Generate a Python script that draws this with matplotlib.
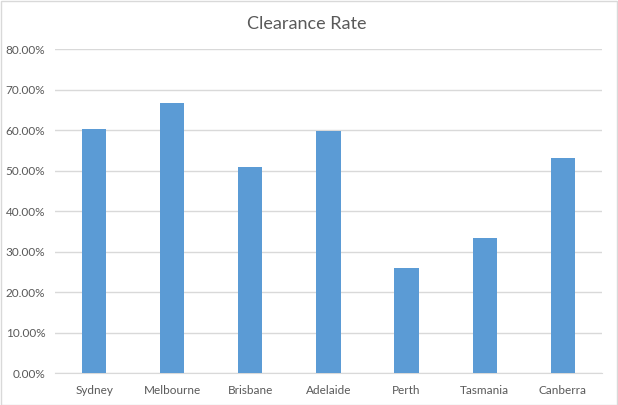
import matplotlib
matplotlib.use("Agg")
import matplotlib.pyplot as plt
from matplotlib.patches import Rectangle
from matplotlib.ticker import PercentFormatter

cities = ["Sydney", "Melbourne", "Brisbane", "Adelaide", "Perth", "Tasmania", "Canberra"]
clearance = [60.3, 66.7, 50.9, 59.8, 26.0, 33.4, 53.2]
yticks = [0, 10, 20, 30, 40, 50, 60, 70, 80]

plt.rcParams["font.family"] = ["Lato", "DejaVu Sans"]
text_color = "#595959"
grid_color = "#d9d9d9"

fig = plt.figure(figsize=(6.18, 4.05), dpi=100)
ax = fig.add_axes([0.089, 0.078, 0.885, 0.800])

x = range(len(cities))
ax.bar(x, clearance, width=0.31, color="#5b9bd5", zorder=3)

ax.set_xlim(-0.5, len(cities) - 0.5)
ax.set_ylim(0, 80)
ax.set_yticks(yticks)
ax.yaxis.set_major_formatter(PercentFormatter(decimals=2))
ax.set_xticks(list(x))
ax.set_xticklabels(cities)

ax.grid(axis="y", color=grid_color, linewidth=1, zorder=0)
for s in ["top", "right", "left"]:
    ax.spines[s].set_visible(False)
ax.spines["bottom"].set_color(grid_color)
ax.tick_params(length=0, colors=text_color, labelsize=8.5)
ax.tick_params(axis="y", pad=7)
ax.tick_params(axis="x", pad=8)

fig.text(0.497, 0.94, "Clearance Rate", ha="center", va="center",
         fontsize=13, color=text_color)

# chart border
fig.patches.append(Rectangle((0.001, 0.001), 0.997, 0.997, transform=fig.transFigure,
                             fill=False, edgecolor=grid_color, linewidth=1))

fig.savefig("out.png", dpi=100)
